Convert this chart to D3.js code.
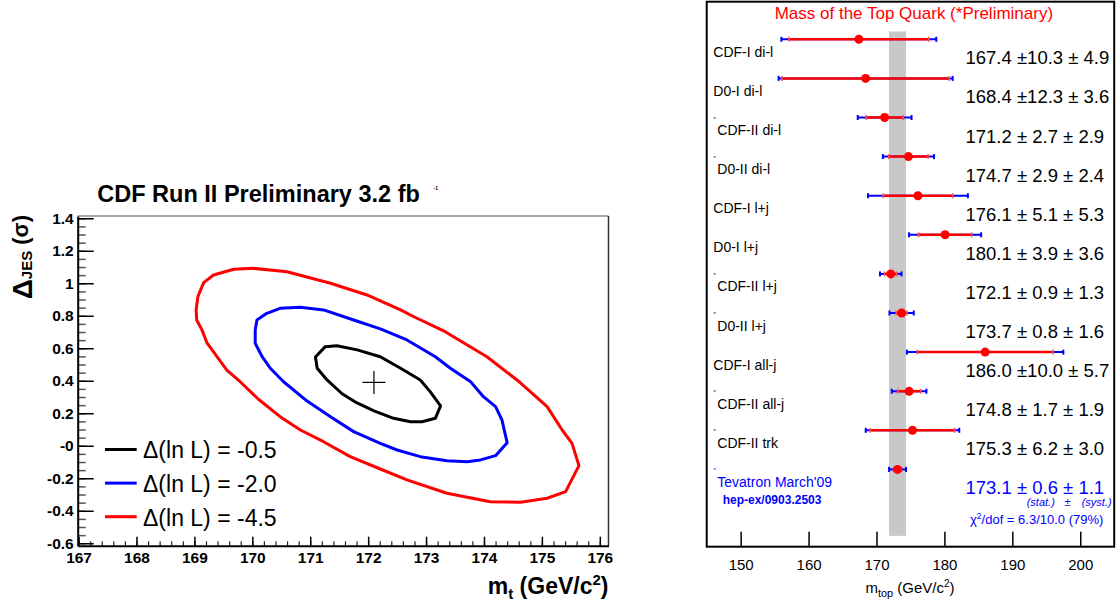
<!DOCTYPE html>
<html>
<head>
<meta charset="utf-8">
<script src="https://cdn.jsdelivr.net/npm/d3@7"></script>
<style>
  body { margin: 0; background: #fff; }
  svg { display: block; font-family: "Liberation Sans", Arial, Helvetica, sans-serif; }
  .pre { white-space: pre; }
</style>
</head>
<body>
<svg id="chart" width="1118" height="607"></svg>
<script>
// ---- left panel: likelihood contours in (m_t, Delta_JES) ----
const contourLevels = ["-0.5", "-2.0", "-4.5"];
const contour05 = [[171.09,0.546],[171.26,0.610],[171.46,0.616],[171.81,0.590],[172.21,0.548],[172.56,0.477],
  [172.90,0.405],[173.07,0.333],[173.25,0.245],[173.16,0.169],[172.93,0.148],[172.73,0.148],[172.44,0.169],
  [172.10,0.215],[171.80,0.265],[171.55,0.320],[171.29,0.405],[171.12,0.477]];
const contour20 = [[170.05,0.713],[170.08,0.774],[170.25,0.815],[170.48,0.846],[170.83,0.852],[171.23,0.836],
  [171.75,0.774],[172.21,0.719],[172.67,0.651],[173.16,0.548],[173.42,0.477],[173.77,0.394],[173.99,0.302],
  [174.20,0.241],[174.31,0.159],[174.40,0.019],[174.20,-0.061],[173.94,-0.087],[173.71,-0.098],[173.36,-0.092],
  [172.90,-0.067],[172.50,-0.026],[172.21,0.015],[171.75,0.087],[171.35,0.179],[170.92,0.282],[170.54,0.394],
  [170.31,0.477],[170.17,0.548],[170.05,0.631]];
const contour45 = [[169.03,0.836],[169.06,0.918],[169.16,1.004],[169.33,1.051],[169.68,1.086],[170.02,1.092],
  [170.60,1.071],[171.35,1.000],[171.98,0.928],[172.56,0.836],[172.79,0.794],[173.33,0.702],[174.05,0.548],
  [174.57,0.405],[175.09,0.241],[175.35,0.097],[175.52,0.015],[175.64,-0.122],[175.41,-0.282],[175.09,-0.323],
  [174.63,-0.348],[174.11,-0.344],[173.36,-0.292],[172.67,-0.210],[172.21,-0.143],[171.69,-0.067],[171.23,0.025],
  [170.83,0.097],[170.48,0.179],[170.10,0.288],[169.79,0.394],[169.56,0.466],[169.39,0.548],[169.22,0.631],
  [169.13,0.713],[169.04,0.774]];
const bestFit = [172.1, 0.39];
const mtTicks = [167, 168, 169, 170, 171, 172, 173, 174, 175, 176];
const jesTicks = [-0.6, -0.4, -0.2, 0, 0.2, 0.4, 0.6, 0.8, 1, 1.2, 1.4];

// ---- right panel: top quark mass measurements ----
const measurements = ["CDF-I di-l", "D0-I di-l", "CDF-II di-l", "D0-II di-l", "CDF-I l+j", "D0-I l+j",
  "CDF-II l+j", "D0-II l+j", "CDF-I all-j", "CDF-II all-j", "CDF-II trk", "Tevatron March'09"];
const preliminary = [false, false, true, true, false, false, true, true, false, true, true, true];
const mtop = [167.4, 168.4, 171.2, 174.7, 176.1, 180.1, 172.1, 173.7, 186.0, 174.8, 175.3, 173.1];
const statErr = [10.3, 12.3, 2.7, 2.9, 5.1, 3.9, 0.9, 0.8, 10.0, 1.7, 6.2, 0.6];
const systErr = [4.9, 3.6, 2.9, 2.4, 5.3, 3.6, 1.3, 1.6, 5.7, 1.9, 3.0, 1.1];
const mtopTicks = [150, 160, 170, 180, 190, 200];

const svg = d3.select("#chart");

// ================= left panel =================
const xL = d3.scaleLinear().domain([166.985, 176.15]).range([77.7, 608.5]);
const yL = d3.scaleLinear().domain([-0.615, 1.414]).range([545.7, 216]);

const left = svg.append("g");

// frame top / right
left.append("line").attr("x1", xL.range()[0]).attr("x2", xL.range()[1]).attr("y1", yL.range()[1]).attr("y2", yL.range()[1])
  .attr("stroke", "#555").attr("stroke-width", 1);
left.append("line").attr("x1", xL.range()[1]).attr("x2", xL.range()[1]).attr("y1", yL.range()[1]).attr("y2", yL.range()[0])
  .attr("stroke", "#333").attr("stroke-width", 1.5);

// x axis
const xMinor = d3.range(167, 176.1, 0.2).map(v => +v.toFixed(1));
left.append("g").attr("transform", `translate(0,${yL.range()[0]})`)
  .call(d3.axisBottom(xL).tickValues(xMinor).tickFormat("").tickSize(-4.5).tickSizeOuter(0))
  .call(g => g.select(".domain").remove())
  .call(g => g.selectAll("line").attr("stroke", "#222").attr("stroke-width", 1.2));
left.append("g").attr("transform", `translate(0,${yL.range()[0]})`)
  .call(d3.axisBottom(xL).tickValues(mtTicks).tickFormat(d3.format("d")).tickSize(-9).tickSizeOuter(0).tickPadding(6.5))
  .call(g => g.select(".domain").attr("stroke", "#000").attr("stroke-width", 2))
  .call(g => g.selectAll("line").attr("stroke", "#000").attr("stroke-width", 1.5))
  .call(g => g.selectAll("text").attr("font-size", 15.5).attr("font-weight", "bold").attr("fill", "#000")
    .attr("font-family", "Liberation Sans, Arial, sans-serif"));

// y axis
const yMinor = d3.range(-0.6, 1.41, 0.05).map(v => +v.toFixed(2));
left.append("g").attr("transform", `translate(${xL.range()[0]},0)`)
  .call(d3.axisLeft(yL).tickValues(yMinor).tickFormat("").tickSize(-8).tickSizeOuter(0))
  .call(g => g.select(".domain").remove())
  .call(g => g.selectAll("line").attr("stroke", "#555").attr("stroke-width", 1.5));
left.append("g").attr("transform", `translate(${xL.range()[0]},0)`)
  .call(d3.axisLeft(yL).tickValues(jesTicks).tickFormat(d => d === 0 ? "-0" : String(d)).tickSize(-16).tickSizeOuter(0).tickPadding(4))
  .call(g => g.select(".domain").attr("stroke", "#000").attr("stroke-width", 2))
  .call(g => g.selectAll("line").attr("stroke", "#000").attr("stroke-width", 1.5))
  .call(g => g.selectAll("text").attr("font-size", 15.5).attr("font-weight", "bold").attr("fill", "#000")
    .attr("font-family", "Liberation Sans, Arial, sans-serif"));

// contours
const contourColors = ["#000000", "#0000ff", "#ff0000"];
const contourLine = d3.line().x(d => xL(d[0])).y(d => yL(d[1])).curve(d3.curveLinearClosed);
[contour05, contour20, contour45].forEach((c, i) => {
  left.append("path").attr("d", contourLine(c)).attr("fill", "none")
    .attr("stroke", contourColors[i]).attr("stroke-width", 3).attr("stroke-linejoin", "round");
});

// best fit marker
const bx = xL(bestFit[0]), by = yL(bestFit[1]);
left.append("line").attr("x1", bx - 11.5).attr("x2", bx + 11.5).attr("y1", by).attr("y2", by).attr("stroke", "#000").attr("stroke-width", 1.2);
left.append("line").attr("x1", bx).attr("x2", bx).attr("y1", by - 11.5).attr("y2", by + 11.5).attr("stroke", "#000").attr("stroke-width", 1.2);

// legend
contourLevels.forEach((lv, i) => {
  const ly = 449.5 + i * 33.6;
  left.append("line").attr("x1", 105).attr("x2", 136.7).attr("y1", ly).attr("y2", ly)
    .attr("stroke", contourColors[i]).attr("stroke-width", 3);
  left.append("text").attr("x", 143).attr("y", ly + 8.8).attr("font-size", 23).attr("fill", "#000")
    .text(`\u0394(ln L) = ${lv}`);
});

// title
left.append("text").attr("x", 97.3).attr("y", 201.7).attr("font-size", 23.5).attr("font-weight", "bold")
  .text("CDF Run II Preliminary 3.2 fb");
left.append("text").attr("x", 433.5).attr("y", 189.5).attr("font-size", 5).attr("font-weight", "bold").text("-1");

// axis titles
const xt = left.append("text").attr("x", xL.range()[1]).attr("y", 594).attr("text-anchor", "end")
  .attr("font-size", 23).attr("font-weight", "bold");
xt.append("tspan").text("m");
xt.append("tspan").attr("font-size", 15).attr("dy", 5).text("t");
xt.append("tspan").attr("dy", -5).attr("class", "pre").text(" (GeV/c");
xt.append("tspan").attr("font-size", 15).attr("dy", -9).text("2");
xt.append("tspan").attr("dy", 9).text(")");

const yt = left.append("text").attr("transform", "translate(32,215) rotate(-90)").attr("text-anchor", "end")
  .attr("font-weight", "bold").attr("font-size", 28);
yt.append("tspan").text("\u0394");
yt.append("tspan").attr("font-size", 15).text("JES");
yt.append("tspan").attr("font-size", 22).attr("dy", -4).attr("class", "pre").text(" (\u03c3)");

// ================= right panel =================
const xR = d3.scaleLinear().domain([145, 205]).range([706.7, 1114.2]);
const yR = d3.scaleLinear().domain([0, measurements.length - 1]).range([39.3, 469.4]);
const right = svg.append("g");
const blue = "#0000ff", red = "#ff0000";

const combStat = statErr[statErr.length - 1], combSyst = systErr[systErr.length - 1];
const combTot = Math.hypot(combStat, combSyst);
const combMass = mtop[mtop.length - 1];

// combined band
right.append("rect")
  .attr("x", xR(combMass - combTot)).attr("width", xR(combMass + combTot) - xR(combMass - combTot))
  .attr("y", yR(-0.2)).attr("height", yR(12.7) - yR(-0.2))
  .attr("fill", "#c8c8c8");

// frame
right.append("rect").attr("x", xR.range()[0]).attr("y", 1.7).attr("width", xR.range()[1] - xR.range()[0])
  .attr("height", 546.7 - 1.7).attr("fill", "none").attr("stroke", "#000").attr("stroke-width", 2);

// x axis
right.append("g").attr("transform", "translate(0,546.7)")
  .call(d3.axisBottom(xR).tickValues(mtopTicks).tickFormat(d3.format("d")).tickSize(-15).tickSizeOuter(0).tickPadding(12.5))
  .call(g => g.select(".domain").remove())
  .call(g => g.selectAll("line").attr("stroke", "#000").attr("stroke-width", 1.5))
  .call(g => g.selectAll("text").attr("font-size", 15).attr("fill", "#000")
    .attr("font-family", "Liberation Sans, Arial, sans-serif"));

const xtR = right.append("text").attr("x", 910).attr("y", 593).attr("text-anchor", "middle").attr("font-size", 15);
xtR.append("tspan").text("m");
xtR.append("tspan").attr("font-size", 11).attr("dy", 4).text("top");
xtR.append("tspan").attr("dy", -4).attr("class", "pre").text(" (GeV/c");
xtR.append("tspan").attr("font-size", 10).attr("dy", -6).text("2");
xtR.append("tspan").attr("dy", 6).text(")");

// title
right.append("text").attr("x", 913.9).attr("y", 18.5).attr("text-anchor", "middle").attr("font-size", 17)
  .attr("fill", red).text("Mass of the Top Quark (*Preliminary)");

// error bars + points
const pad = v => (v < 10 ? " " : "") + v.toFixed(1);
measurements.forEach((name, i) => {
  const m = mtop[i], st = statErr[i], tot = Math.hypot(statErr[i], systErr[i]);
  const y = yR(i);
  const isComb = i === measurements.length - 1;
  const g = right.append("g");
  g.append("line").attr("x1", xR(m - tot)).attr("x2", xR(m + tot)).attr("y1", y).attr("y2", y)
    .attr("stroke", blue).attr("stroke-width", 2);
  [m - tot, m + tot].forEach(v => g.append("line").attr("x1", xR(v)).attr("x2", xR(v)).attr("y1", y - 2.5).attr("y2", y + 2.5)
    .attr("stroke", blue).attr("stroke-width", 2));
  g.append("line").attr("x1", xR(m - st)).attr("x2", xR(m + st)).attr("y1", y).attr("y2", y)
    .attr("stroke", red).attr("stroke-width", 2.5);
  [m - st, m + st].forEach(v => g.append("line").attr("x1", xR(v)).attr("x2", xR(v)).attr("y1", y - 2.5).attr("y2", y + 2.5)
    .attr("stroke", "#ff5050").attr("stroke-width", 1.5));
  g.append("circle").attr("cx", xR(m)).attr("cy", y).attr("r", 4.5).attr("fill", red);

  const col = isComb ? blue : "#000";
  if (preliminary[i]) {
    g.append("text").attr("x", 713.5).attr("y", y + 3).attr("font-size", 6).attr("fill", col).text("*");
  }
  g.append("text").attr("x", preliminary[i] ? 717.3 : 713.3).attr("y", y + 17.5).attr("font-size", 14)
    .attr("fill", col).text(name);
  g.append("text").attr("class", "pre").attr("x", 965.5).attr("y", y + 25).attr("font-size", 18.5)
    .attr("fill", col).text(`${m.toFixed(1)} \u00b1${pad(st)} \u00b1${pad(systErr[i])}`);
});

// combination annotations
const yc = yR(measurements.length - 1);
right.append("text").attr("x", 722.7).attr("y", yc + 34.7).attr("font-size", 12).attr("font-weight", "bold")
  .attr("fill", blue).text("hep-ex/0903.2503");
right.append("text").attr("x", 1026.7).attr("y", yc + 36.5).attr("font-size", 11).attr("font-style", "italic")
  .attr("fill", blue).text("(stat.)");
right.append("text").attr("x", 1064.5).attr("y", yc + 36.5).attr("font-size", 11).attr("font-style", "italic")
  .attr("fill", blue).text("\u00b1");
right.append("text").attr("x", 1081.7).attr("y", yc + 36.5).attr("font-size", 11).attr("font-style", "italic")
  .attr("fill", blue).text("(syst.)");
const chi = right.append("text").attr("x", 970).attr("y", yc + 55).attr("font-size", 13).attr("fill", blue);
chi.append("tspan").text("\u03c7");
chi.append("tspan").attr("font-size", 8.5).attr("dy", -5).text("2");
chi.append("tspan").attr("dy", 5).text("/dof = 6.3/10.0 (79%)");
</script>
</body>
</html>
